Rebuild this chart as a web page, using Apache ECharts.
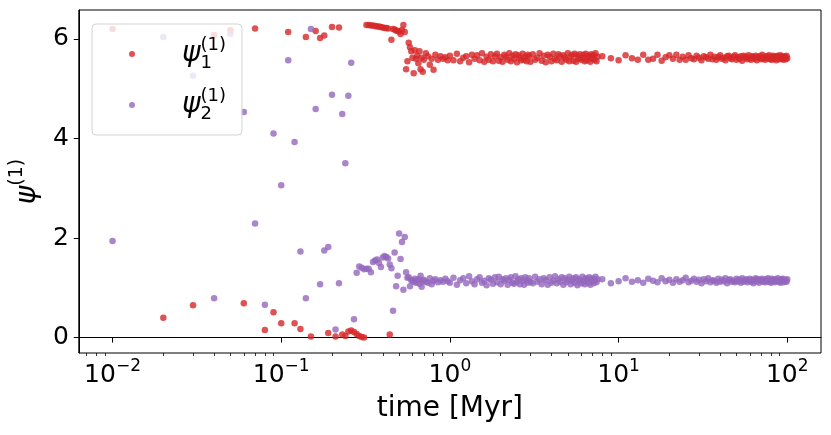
<!DOCTYPE html>
<html>
<head>
<meta charset="utf-8">
<script src="https://cdn.jsdelivr.net/npm/echarts@6/dist/echarts.min.js"></script>
<style>
html,body{margin:0;padding:0;background:#fff;}
#chart{width:831px;height:435px;}
</style>
</head>
<body>
<div id="chart"></div>
<script>
// ---- data ----
const timeEarly = [0.01,0.02,0.03,0.04,0.05,0.06,0.07,0.08,0.09,0.10,
  0.11,0.12,0.13,0.14,0.15,0.16,0.17,0.18,0.19,0.20,
  0.21,0.22,0.23,0.24,0.25,0.26,0.27,0.28,0.29,0.30,
  0.31,0.32,0.33,0.34,0.35,0.36,0.37,0.38,0.39,0.40,
  0.41,0.42,0.43,0.44,0.45,0.46,0.47,0.48,0.49,0.50,
  0.51,0.52,0.53,0.54,0.55,0.56,0.57,0.58,0.59,0.60,
  0.61,0.62,0.63,0.64,0.65,0.66,0.67,0.68,0.69,0.70,
  0.72,0.74,0.76,0.78,0.80,0.82,0.85,0.88,0.91,0.94,0.97];
const psi1Early = [6.20,0.40,0.65,6.08,6.18,0.69,6.21,0.15,0.51,0.29,
  6.14,0.29,0.17,6.04,0.02,6.16,6.02,6.07,0.09,6.24,
  0.02,6.23,0.06,0.03,0.12,0.14,0.11,0.07,0.03,0.01,
  0.00,6.28,6.28,6.27,6.27,6.26,6.25,6.25,6.24,6.23,
  6.22,6.22,6.21,0.06,5.98,6.20,6.19,6.17,6.16,6.15,
  6.10,6.18,6.28,6.14,5.39,5.55,5.92,5.83,5.75,5.62,
  5.31,5.77,5.60,5.66,5.51,5.75,5.39,5.62,5.34,5.58,
  5.71,5.65,5.48,5.60,5.38,5.68,5.58,5.65,5.60,5.63,5.57];
const psi2Early = [1.94,6.04,5.26,0.79,6.10,4.53,2.29,0.66,4.10,3.06,
  5.57,3.93,1.73,0.79,6.20,4.59,1.07,1.75,1.82,4.88,
  0.16,1.09,4.49,3.50,4.86,5.52,0.37,1.30,1.43,1.40,
  1.37,1.38,1.38,1.31,1.52,1.55,1.57,1.50,1.42,1.61,
  1.64,1.62,1.59,1.47,1.39,0.54,1.71,1.03,1.24,2.09,
  1.58,1.92,0.96,2.02,1.31,1.20,1.21,1.03,1.15,1.15,
  1.12,1.18,1.10,1.14,1.17,1.08,1.24,1.02,1.13,1.16,
  1.12,1.10,1.19,1.07,1.14,1.17,1.11,1.15,1.12,1.18,1.13];

const timeBand = [1.00,1.05,1.10,1.15,1.20,1.25,1.30,1.35,1.40,1.45,
  1.50,1.55,1.60,1.65,1.70,1.75,1.80,1.85,1.90,1.95,
  2.00,2.05,2.10,2.15,2.20,2.25,2.30,2.35,2.40,2.45,
  2.50,2.55,2.60,2.65,2.70,2.75,2.80,2.85,2.90,2.95,3.00,
  3.1,3.2,3.3,3.4,3.5,3.6,3.7,3.8,3.9,4.0,
  4.1,4.2,4.3,4.4,4.5,4.6,4.7,4.8,4.9,5.0,
  5.1,5.2,5.3,5.4,5.5,5.6,5.7,5.8,5.9,6.0,
  6.1,6.2,6.3,6.4,6.5,6.6,6.7,6.8,6.9,7.0,
  7.1,7.2,7.3,7.4,7.5];
const psi1Band = [5.66,5.57,5.70,5.55,5.62,5.65,5.53,5.68,5.60,5.67,
  5.57,5.71,5.54,5.64,5.58,5.69,5.55,5.65,5.70,5.56,
  5.63,5.54,5.68,5.64,5.58,5.71,5.55,5.66,5.60,5.69,
  5.53,5.67,5.62,5.57,5.70,5.58,5.64,5.55,5.68,5.65,5.54,
  5.69,5.58,5.62,5.71,5.56,5.66,5.53,5.68,5.64,5.55,
  5.70,5.60,5.57,5.69,5.65,5.54,5.67,5.62,5.58,5.71,
  5.55,5.64,5.68,5.56,5.70,5.54,5.66,5.60,5.69,5.58,
  5.62,5.68,5.55,5.70,5.57,5.64,5.66,5.54,5.69,5.60,
  5.67,5.58,5.71,5.55,5.64];
const psi2Band = [1.10,1.20,1.06,1.15,1.19,1.09,1.23,1.13,1.07,1.17,
  1.21,1.10,1.14,1.05,1.19,1.16,1.08,1.21,1.11,1.22,
  1.07,1.17,1.14,1.19,1.06,1.16,1.21,1.10,1.08,1.23,
  1.12,1.17,1.07,1.19,1.14,1.06,1.21,1.15,1.10,1.19,1.12,
  1.09,1.22,1.12,1.17,1.07,1.19,1.15,1.06,1.21,1.10,
  1.14,1.23,1.09,1.17,1.12,1.21,1.06,1.19,1.11,1.16,
  1.22,1.07,1.14,1.19,1.10,1.21,1.05,1.17,1.15,1.09,
  1.22,1.12,1.07,1.19,1.17,1.10,1.21,1.06,1.15,1.19,
  1.09,1.14,1.22,1.11,1.17];

const timeLate = [8,9,10,11,12,13,14,15,16,17,
  18,19,20,21,22,23,24,25,26,27,
  28,29,30,31,32,33,34,35,36,37,
  38,39,40,41,42,43,44,45,46,47,
  48,49,50,51,52,53,54,55,56,57,
  58,59,60,61,62,63,64,65,66,67,
  68,69,70,71,72,73,74,75,76,77,
  78,79,80,81,82,83,84,85,86,87,
  88,89,90,91,92,93,94,95,96,97,
  98,99,100];
const psi1Late = [5.65,5.61,5.57,5.67,5.61,5.58,5.68,5.58,5.60,5.68,
  5.56,5.63,5.67,5.60,5.68,5.58,5.64,5.58,5.67,5.61,
  5.59,5.66,5.62,5.57,5.65,5.63,5.60,5.68,5.59,5.64,
  5.58,5.63,5.67,5.60,5.62,5.57,5.65,5.66,5.61,5.59,
  5.64,5.67,5.58,5.63,5.60,5.65,5.56,5.66,5.62,5.64,
  5.59,5.67,5.61,5.58,5.65,5.63,5.60,5.66,5.57,5.64,
  5.62,5.65,5.59,5.68,5.60,5.63,5.58,5.65,5.64,5.61,
  5.67,5.59,5.62,5.58,5.66,5.63,5.60,5.65,5.57,5.64,
  5.66,5.61,5.59,5.67,5.62,5.60,5.65,5.58,5.63,5.64,
  5.59,5.66,5.61];
const psi2Late = [1.17,1.09,1.13,1.19,1.12,1.15,1.10,1.18,1.14,1.11,
  1.19,1.13,1.16,1.10,1.17,1.12,1.15,1.20,1.11,1.14,
  1.18,1.12,1.16,1.09,1.17,1.13,1.19,1.11,1.15,1.14,
  1.10,1.18,1.12,1.16,1.13,1.19,1.09,1.15,1.17,1.12,
  1.14,1.11,1.18,1.13,1.16,1.10,1.19,1.12,1.15,1.17,
  1.11,1.14,1.18,1.12,1.16,1.09,1.15,1.19,1.13,1.17,
  1.10,1.16,1.14,1.18,1.12,1.15,1.11,1.17,1.13,1.19,
  1.12,1.15,1.10,1.18,1.14,1.16,1.11,1.17,1.13,1.15,
  1.19,1.12,1.14,1.10,1.17,1.15,1.18,1.11,1.16,1.13,
  1.15,1.12,1.17];

const xMajorTicks = [0.01, 0.1, 1, 10, 100];
const xTickExponents = ['−2', '−1', '0', '1', '2'];
const xMinorTicks = [0.007,0.008,0.009,
  0.02,0.03,0.04,0.05,0.06,0.07,0.08,0.09,
  0.2,0.3,0.4,0.5,0.6,0.7,0.8,0.9,
  2,3,4,5,6,7,8,9,
  20,30,40,50,60,70,80,90];
const yTicks = [0, 2, 4, 6];
const xRange = [Math.pow(10, -2.2), Math.pow(10, 2.2)];
const yRange = [-0.31, 6.58];

// ---- build series ----
const time = timeEarly.concat(timeBand, timeLate);
const psi1 = psi1Early.concat(psi1Band, psi1Late);
const psi2 = psi2Early.concat(psi2Band, psi2Late);
const data1 = time.map((t, i) => [t, psi1[i]]);
const data2 = time.map((t, i) => [t, psi2[i]]);

const FONT = 'DejaVu Sans';
const chart = echarts.init(document.getElementById('chart'), null, {renderer: 'canvas'});
const legendSub = {psi1: '1', psi2: '2'};

chart.setOption({
  animation: false,
  backgroundColor: '#fff',
  textStyle: {fontFamily: FONT},
  grid: {left: 78, right: 10, top: 10, bottom: 82, show: true, borderColor: '#000', borderWidth: 1, backgroundColor: 'transparent'},
  legend: {
    show: true,
    orient: 'vertical',
    left: 92, top: 24,
    padding: [12, 16, 12, 37],
    itemWidth: 6, itemHeight: 6,
    itemGap: 15,
    selectedMode: false,
    backgroundColor: 'rgba(255,255,255,0.8)',
    borderColor: '#d3d3d3', borderWidth: 1, borderRadius: 4,
    data: [{name: 'psi1', icon: 'circle'}, {name: 'psi2', icon: 'circle'}],
    formatter: name => '{gap|}{psi|ψ}{sub|' + legendSub[name] + '}{sup|(1)}',
    textStyle: {
      color: '#000', fontFamily: FONT,
      rich: {
        gap: {width: 42, lineHeight: 36},
        psi: {fontSize: 28, fontStyle: 'italic', fontFamily: FONT, color: '#000', lineHeight: 36, verticalAlign: 'middle'},
        sub: {fontSize: 18, fontFamily: FONT, color: '#000', lineHeight: 36, verticalAlign: 'bottom', width: 0},
        sup: {fontSize: 18, fontFamily: FONT, color: '#000', lineHeight: 36, verticalAlign: 'top'}
      }
    }
  },
  xAxis: [{
    type: 'log', logBase: 10,
    min: xRange[0], max: xRange[1],
    position: 'bottom',
    name: 'time [Myr]', nameLocation: 'middle', nameGap: 42,
    nameTextStyle: {fontSize: 28, color: '#000', fontFamily: FONT},
    axisLine: {show: true, lineStyle: {color: '#000', width: 1}},
    axisTick: {show: true, customValues: xMajorTicks, length: 5, lineStyle: {color: '#000', width: 1}},
    axisLabel: {
      show: true, customValues: xMajorTicks, margin: 5,
      formatter: v => '{b|10}{sup|' + xTickExponents[xMajorTicks.findIndex(m => Math.abs(Math.log10(m) - Math.log10(v)) < 1e-6)] + '}',
      rich: {
        b: {fontSize: 25, color: '#000', fontFamily: FONT, lineHeight: 30, verticalAlign: 'bottom'},
        sup: {fontSize: 17, color: '#000', fontFamily: FONT, lineHeight: 30, verticalAlign: 'top'}
      }
    },
    splitLine: {show: false}
  }, {
    type: 'log', logBase: 10,
    min: xRange[0], max: xRange[1],
    position: 'bottom',
    axisLine: {show: false},
    axisTick: {show: true, customValues: xMinorTicks, length: 3, lineStyle: {color: '#000', width: 0.8}},
    axisLabel: {show: false},
    splitLine: {show: false}
  }],
  yAxis: {
    type: 'value',
    min: yRange[0], max: yRange[1],
    name: '{psi|ψ}{sup|(1)}',
    nameLocation: 'middle', nameGap: 34, nameRotate: 90,
    nameTextStyle: {
      rich: {
        psi: {fontSize: 28, fontStyle: 'italic', fontFamily: FONT, color: '#000', lineHeight: 34, verticalAlign: 'bottom'},
        sup: {fontSize: 19, fontFamily: FONT, color: '#000', lineHeight: 34, verticalAlign: 'top'}
      }
    },
    axisLine: {show: true, lineStyle: {color: '#000', width: 1}},
    axisTick: {show: true, customValues: yTicks, length: 5, lineStyle: {color: '#000', width: 1}},
    axisLabel: {show: true, customValues: yTicks, fontSize: 25, color: '#000', margin: 10, fontFamily: FONT},
    splitLine: {show: false}
  },
  series: [{
    name: 'psi1', type: 'scatter', xAxisIndex: 0, data: data1,
    symbol: 'circle', symbolSize: 6.5,
    itemStyle: {color: '#d62728'}
  }, {
    name: 'psi2', type: 'scatter', xAxisIndex: 0, data: data2,
    symbol: 'circle', symbolSize: 6.5,
    itemStyle: {color: '#9467bd'}
  }]
});
</script>
</body>
</html>
